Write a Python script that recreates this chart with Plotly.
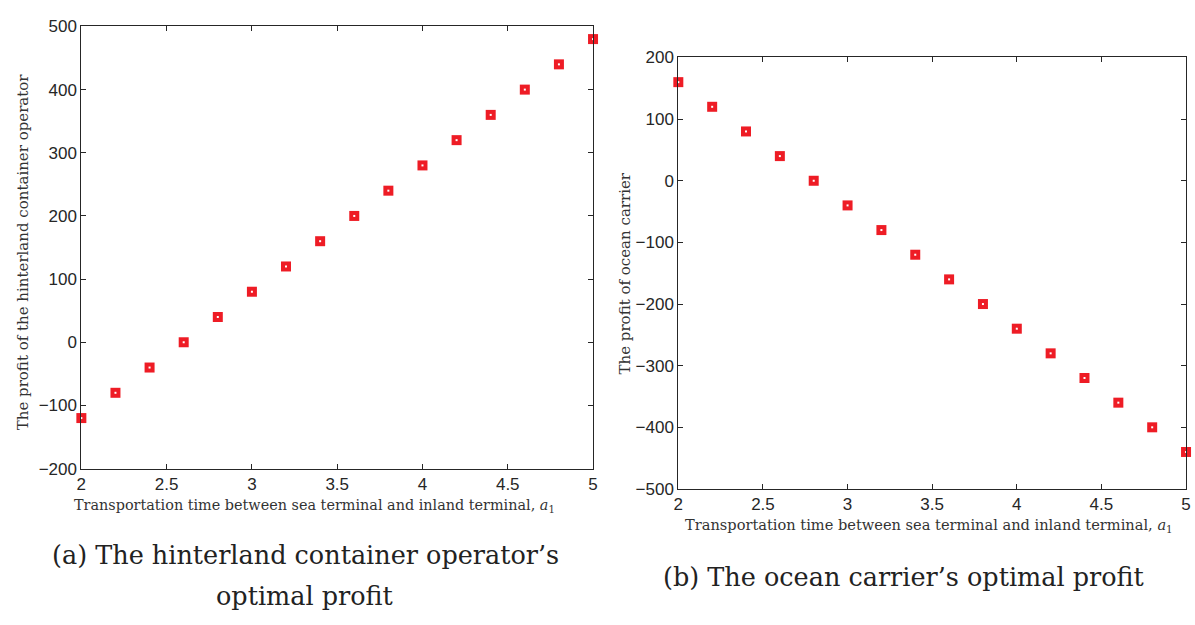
import plotly.graph_objects as go

x_vals = [2.0, 2.2, 2.4, 2.6, 2.8, 3.0, 3.2, 3.4, 3.6, 3.8, 4.0, 4.2, 4.4, 4.6, 4.8, 5.0]
hinterland_profit = [-120, -80, -40, 0, 40, 80, 120, 160, 200, 240, 280, 320, 360, 400, 440, 480]
ocean_profit = [160, 120, 80, 40, 0, -40, -80, -120, -160, -200, -240, -280, -320, -360, -400, -440]
x_ticks = [2, 2.5, 3, 3.5, 4, 4.5, 5]
y_ticks_a = [-200, -100, 0, 100, 200, 300, 400, 500]
y_ticks_b = [-500, -400, -300, -200, -100, 0, 100, 200]

RED = "#ee1c25"
fig = go.Figure()

for xa, ya, ys in [("x", "y", hinterland_profit), ("x2", "y2", ocean_profit)]:
    fig.add_trace(go.Scatter(x=x_vals, y=ys, mode="markers", xaxis=xa, yaxis=ya,
                             marker=dict(symbol="square", size=10, color=RED, line=dict(width=0)),
                             cliponaxis=False, showlegend=False))
    fig.add_trace(go.Scatter(x=x_vals, y=ys, mode="markers", xaxis=xa, yaxis=ya,
                             marker=dict(symbol="square", size=2, color="white", line=dict(width=0)),
                             cliponaxis=False, showlegend=False))

axis_common = dict(showline=True, linecolor="#262626", linewidth=1, mirror="ticks",
                   ticks="inside", ticklen=5, tickcolor="#262626", showgrid=False,
                   zeroline=False, tickfont=dict(family="Liberation Sans, Arial", size=17, color="#262626"))

W, H = 1195, 625
def px(x): return x / W
def py(y): return 1 - y / H

fig.update_layout(
    width=W, height=H, margin=dict(l=0, r=0, t=0, b=0),
    paper_bgcolor="white", plot_bgcolor="white",
    xaxis=dict(domain=[px(77), px(593)], range=[2, 5], tickvals=x_ticks, anchor="y", **axis_common),
    yaxis=dict(domain=[py(474), py(18)], range=[-200, 500], tickvals=y_ticks_a, anchor="x", **axis_common),
    xaxis2=dict(domain=[px(679), px(1191)], range=[2, 5], tickvals=x_ticks, anchor="y2", **axis_common),
    yaxis2=dict(domain=[py(495), py(50)], range=[-500, 200], tickvals=y_ticks_b, anchor="x2", **axis_common),
)

serif = "DejaVu Serif, serif"
xtitle = "Transportation time between sea terminal and inland terminal, <i>a</i><sub>1</sub>"
ann = [
    dict(x=px(312), y=py(513), text=xtitle, font=dict(family=serif, size=14.4, color="#333")),
    dict(x=px(932), y=py(533), text=xtitle, font=dict(family=serif, size=14.6, color="#333")),
    dict(x=px(19), y=py(250), text="The profit of the hinterland container operator", textangle=-90,
         font=dict(family=serif, size=15, color="#333")),
    dict(x=px(625), y=py(273), text="The profit of ocean carrier", textangle=-90,
         font=dict(family=serif, size=15, color="#333")),
    dict(x=px(303), y=py(563), text="(a) The hinterland container operator’s",
         font=dict(family=serif, size=25.5, color="#222")),
    dict(x=px(303), y=py(605), text="optimal profit",
         font=dict(family=serif, size=25.5, color="#222")),
    dict(x=px(907), y=py(586), text="(b) The ocean carrier’s optimal profit",
         font=dict(family=serif, size=25.5, color="#222")),
]
for a in ann:
    a.update(xref="paper", yref="paper", showarrow=False, xanchor="center", yanchor="middle")
fig.update_layout(annotations=ann)

fig.write_html("out.html")
